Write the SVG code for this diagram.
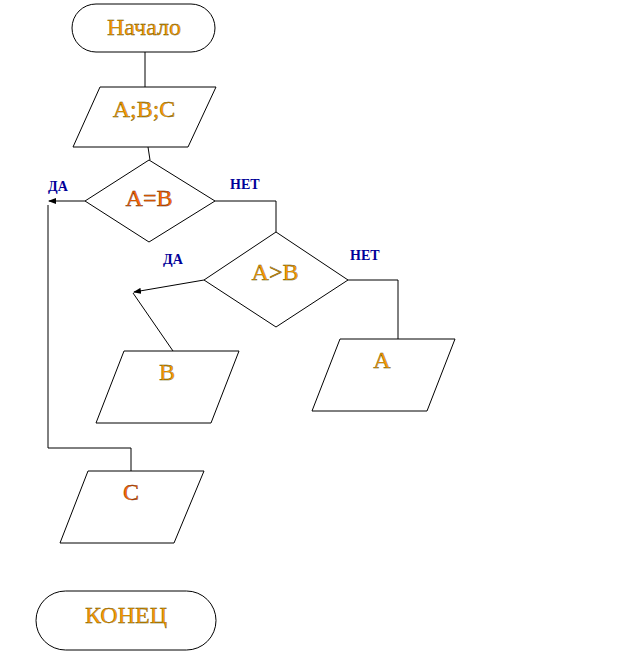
<svg xmlns="http://www.w3.org/2000/svg" width="624" height="654" viewBox="0 0 624 654">
<defs>
<marker id="arr" markerWidth="8" markerHeight="6" refX="7" refY="3" orient="auto" markerUnits="userSpaceOnUse">
<path d="M0,0 L8,3 L0,6 z" fill="#000"/>
</marker>
<style>
.s{fill:#fff;stroke:#000;stroke-width:1}
.t{font-family:"Liberation Serif","Times New Roman",serif;font-size:24px;text-anchor:middle;fill:#FF9900;stroke:#665500;stroke-width:0.4}
.r{fill:#FF6600;stroke:#662200}
.l{font-family:"Liberation Serif","Times New Roman",serif;font-size:14px;font-weight:bold;fill:#000099}
.c{fill:none;stroke:#000;stroke-width:1}
</style>
</defs>
<rect width="624" height="654" fill="#fff"/>
<g id="connectors">
<path class="c" d="M145,52 V87"/>
<path class="c" d="M148,147 L150,160"/>
<path class="c" d="M85,201 H49" marker-end="url(#arr)"/>
<path class="c" d="M48,205 V448 H131 V471"/>
<path class="c" d="M215,201 H276 V232"/>
<path class="c" d="M204,280 L134,292" marker-end="url(#arr)"/>
<path class="c" d="M133,293 L173,351"/>
<path class="c" d="M348,280 H398 V339"/>
<text class="l" x="48" y="191">ДА</text>
<text class="l" x="230" y="189">НЕТ</text>
<text class="l" x="163" y="264">ДА</text>
<text class="l" x="350" y="260">НЕТ</text>
</g>
<g id="start">
<rect class="s" x="72" y="4" width="143" height="48" rx="24" ry="24"/>
<text class="t" x="144" y="35">Начало</text>
</g>
<g id="input">
<polygon class="s" points="100,87 216,87 188,147 73,147"/>
<text class="t" x="144" y="117">A;B;C</text>
</g>
<g id="cond1">
<polygon class="s" points="149,160 215,201 149,242 85,201"/>
<text class="t r" x="149" y="206">A=B</text>
</g>
<g id="cond2">
<polygon class="s" points="276,232 348,280 276,327 204,280"/>
<text class="t" x="275" y="280">A&gt;B</text>
</g>
<g id="outB">
<polygon class="s" points="124,351 239,351 211,423 96,423"/>
<text class="t" x="167" y="380">B</text>
</g>
<g id="outA">
<polygon class="s" points="340,339 455,339 427,411 312,411"/>
<text class="t" x="382" y="368">A</text>
</g>
<g id="outC">
<polygon class="s" points="88,471 204,471 174,543 60,543"/>
<text class="t r" x="131" y="500">C</text>
</g>
<g id="end">
<rect class="s" x="36" y="591" width="180" height="59" rx="29.5" ry="29.5"/>
<text class="t" x="126" y="623">КОНЕЦ</text>
</g>
</svg>
